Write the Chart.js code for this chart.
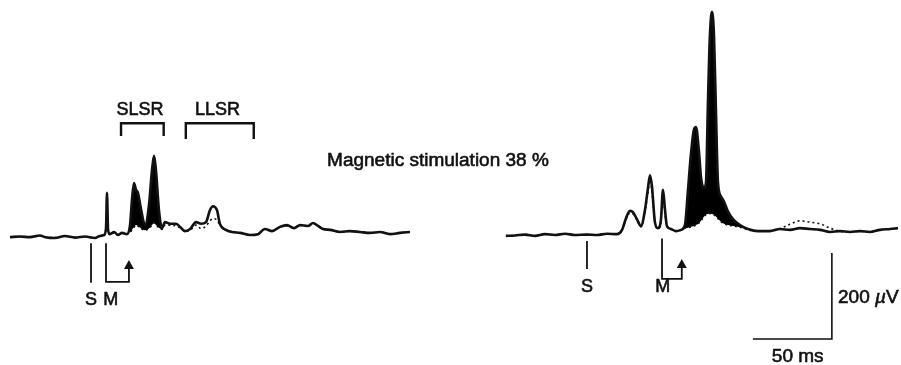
<!DOCTYPE html>
<html>
<head>
<meta charset="utf-8">
<script src="https://cdn.jsdelivr.net/npm/chart.js@4.4.1/dist/chart.umd.min.js"></script>
<style>
  html, body { margin: 0; padding: 0; background: #fff; }
  #wrap { width: 901px; height: 365px; position: relative; }
</style>
</head>
<body>
<div id="wrap"><canvas id="trace"></canvas></div>
<script>
// ========== DATA (ms from stimulus S, µV) ==========
// left record
const timeL = [-51.3, -44.9, -38.6, -32.3, -29, -22.8, -16.5, -10.1, -3.8, 2.5, 5.7, 8.2, 9.5, 10.1, 10.8, 12, 14.6, 17, 19.6, 22.8,
  24.7, 26, 27.2, 28.5, 29.7, 31.6, 34.2, 36.7, 38.6, 39.9, 41.1, 43, 44.9, 46.8, 50, 53.8, 56.3, 59.5, 62.7, 66.5,
  69.6, 72.8, 75.3, 77.2, 79.7, 81.6, 85.4, 89.2, 94.3, 100.6, 105.7, 110, 114.6, 119.6, 124, 128.5, 132.3, 137.3, 140.5, 143.7,
  146.8, 151.3, 157.6, 163.9, 170.3, 176.6, 182.9, 189.2, 195.6, 201.9];
const solidL = [2, 3.5, 2, 6, 2, 0, 4.7, 1, 3.5, 0, 4.7, 7, 23, 105, 19, 9, 14, 7, 12, 9,
  30, 92, 128, 112, 105, 68, 30, 77, 158, 191, 158, 65, 23, 37, 33, 33, 26, 16, 21, 37,
  33, 37, 65, 74, 65, 33, 19, 14, 12, 7, 9, 21, 16, 26, 30, 23, 30, 28, 35, 28,
  21, 19, 14, 16, 14, 12, 14, 9, 12, 14];
const dottedL = [2, 3, 2, 5, 2, 1, 4, 1, 3, 0, 4, 6, 15, 60, 12, 8, 12, 8, 11, 10,
  12, 20, 25, 30, 28, 22, 18, 22, 30, 35, 30, 24, 20, 30, 30, 28, 24, 16, 18, 30,
  22, 28, 40, 45, 42, 30, 18, 14, 12, 7, 9, 20, 16, 26, 28, 24, 30, 27, 33, 28,
  22, 19, 14, 16, 14, 12, 14, 9, 12, 14];

// right record
const timeR = [-51.3, -45.6, -39.2, -32.9, -26.6, -20.3, -13.9, -7.6, 0, 6.3, 12.7, 19, 22.2, 24.7, 27.2, 29.1, 31.6, 34.2, 36.7, 38.6,
  39.9, 41.1, 43, 44.9, 46.8, 48.1, 49.4, 50.6, 53.2, 56.3, 59.5, 62, 63.9, 65.8, 67.7, 69, 70.9, 72.2, 74.1, 75.3,
  76.6, 77.8, 79.1, 80.4, 81.6, 82.9, 84.8, 86.7, 89.2, 92.4, 96.8, 101.9, 108.2, 115.8, 122.2, 128.5, 134.8, 141.1, 147.5, 153.8,
  160.1, 166.5, 172.8, 179.1, 185.4, 191.8, 196.8];
const solidR = [5, 6, 8, 5, 9, 7, 10, 7, 8, 7, 10, 9, 19, 46, 63, 60, 44, 28, 65, 116,
  146, 121, 37, 23, 42, 112, 65, 28, 21, 16, 19, 30, 110, 195, 252, 258, 200, 140, 116, 128,
  320, 470, 526, 470, 300, 130, 97, 85, 62, 44, 30, 21, 16, 16, 21, 19, 23, 21, 19, 14,
  16, 14, 16, 14, 19, 21, 23];
const dottedR = [5, 6, 8, 5, 9, 7, 10, 7, 8, 7, 10, 9, 19, 44, 58, 56, 42, 26, 60, 105,
  135, 110, 35, 22, 38, 100, 55, 26, 20, 16, 18, 23, 24, 26, 28, 30, 35, 40, 50, 54,
  56, 57, 56, 54, 50, 45, 38, 33, 30, 28, 25, 19, 16, 17, 22, 32, 40, 37, 33, 23,
  16, 14, 16, 14, 19, 21, 23];

// shaded difference windows (ms)
const windowL = [24, 46];
const windowR = [62, 102];

// ========== HELPERS ==========
function toPoints(times, values) {
  return times.map((t, i) => ({ x: t, y: values[i] }));
}
function inWindow(times, values, win) {
  return toPoints(times, values).filter(p => p.x >= win[0] && p.x <= win[1]);
}

const lineBase = {
  borderColor: '#111',
  pointRadius: 0,
  cubicInterpolationMode: 'monotone',
  fill: false
};

// ========== ANNOTATIONS ==========
const annotations = {
  id: 'annotations',
  afterDraw(chart) {
    const { ctx, scales } = chart;
    const xL = v => scales.xL.getPixelForValue(v);
    const xR = v => scales.xR.getPixelForValue(v);
    const y = v => scales.y.getPixelForValue(v);

    ctx.save();
    ctx.strokeStyle = '#111';
    ctx.fillStyle = '#111';

    const path = (pts, w) => {
      ctx.lineWidth = w;
      ctx.beginPath();
      pts.forEach((p, i) => i ? ctx.lineTo(p[0], p[1]) : ctx.moveTo(p[0], p[1]));
      ctx.stroke();
    };
    const arrowHead = (x, tipY) => {
      ctx.beginPath();
      ctx.moveTo(x, tipY);
      ctx.lineTo(x - 5, tipY + 9);
      ctx.lineTo(x + 5, tipY + 9);
      ctx.closePath();
      ctx.fill();
    };
    // scanned-looking text: fill plus a thin stroke
    const text = (s, x, yy) => {
      ctx.lineWidth = 0.6;
      ctx.fillText(s, x, yy);
      ctx.strokeText(s, x, yy);
    };

    // brackets
    path([[xL(19), y(237)], [xL(19), y(267)], [xL(46), y(267)], [xL(46), y(237)]], 2.4);
    path([[xL(60), y(230)], [xL(60), y(267)], [xL(103), y(267)], [xL(103), y(230)]], 2.4);

    // stimulus markers, left
    path([[xL(0), y(-12)], [xL(0), y(-104)]], 1.8);
    path([[xL(9.5), y(-12)], [xL(9.5), y(-102)], [xL(24), y(-102)], [xL(24), y(-58)]], 1.8);
    arrowHead(xL(24), y(-51));

    // stimulus markers, right
    path([[xR(0), y(-7)], [xR(0), y(-72)]], 1.8);
    path([[xR(47.5), y(-1)], [xR(47.5), y(-95)], [xR(60), y(-95)], [xR(60), y(-56)]], 1.8);
    arrowHead(xR(60), y(-49));

    // scale bar 50 ms x 200 µV
    path([[xR(105), y(-235)], [xR(155), y(-235)], [xR(155), y(-35)]], 1.6);

    // texts
    ctx.font = '18px "Liberation Sans", Arial, sans-serif';
    ctx.textBaseline = 'alphabetic';
    ctx.textAlign = 'center';
    text('SLSR', xL(31), y(286));
    text('LLSR', xL(80), y(286));
    text('S', xL(0), y(-156));
    text('M', xL(12.5), y(-156));
    text('S', xR(0), y(-126));
    text('M', xR(48), y(-126));

    ctx.font = '19px "Liberation Sans", Arial, sans-serif';
    ctx.textAlign = 'left';
    text('Magnetic stimulation 38 %', xL(149.4), y(167));

    text('50 ms', xR(117), y(-288));

    let tx = xR(158.9);
    const ty = y(-152);
    text('200 ', tx, ty);
    tx += ctx.measureText('200 ').width;
    ctx.font = 'italic 19px "Liberation Sans", Arial, sans-serif';
    text('\u00b5', tx, ty);
    tx += ctx.measureText('\u00b5').width;
    ctx.font = '19px "Liberation Sans", Arial, sans-serif';
    text('V', tx, ty);

    ctx.restore();
  }
};

// ========== CHART ==========
new Chart(document.getElementById('trace'), {
  type: 'line',
  data: {
    datasets: [
      { ...lineBase, xAxisID: 'xL', data: toPoints(timeL, solidL), borderWidth: 2.6 },
      { ...lineBase, xAxisID: 'xR', data: toPoints(timeR, solidR), borderWidth: 2.6 },
      { ...lineBase, xAxisID: 'xL', data: toPoints(timeL, dottedL), borderWidth: 1.6, borderDash: [2, 3] },
      { ...lineBase, xAxisID: 'xR', data: toPoints(timeR, dottedR), borderWidth: 1.6, borderDash: [2, 3] },
      { ...lineBase, xAxisID: 'xL', data: inWindow(timeL, solidL, windowL), borderWidth: 0, fill: 5, backgroundColor: '#000' },
      { ...lineBase, xAxisID: 'xL', data: inWindow(timeL, dottedL, windowL), borderWidth: 0 },
      { ...lineBase, xAxisID: 'xR', data: inWindow(timeR, solidR, windowR), borderWidth: 0, fill: 7, backgroundColor: '#000' },
      { ...lineBase, xAxisID: 'xR', data: inWindow(timeR, dottedR, windowR), borderWidth: 0 }
    ]
  },
  options: {
    responsive: true,
    maintainAspectRatio: false,
    animation: false,
    events: [],
    layout: { padding: 0 },
    plugins: { legend: { display: false }, tooltip: { enabled: false } },
    scales: {
      xL: { type: 'linear', display: false, min: -57.6, max: 512.65 },
      xR: { type: 'linear', display: false, min: -371.5, max: 198.75 },
      y: { type: 'linear', display: false, min: -295.3, max: 553.5 }
    }
  },
  plugins: [annotations]
});
</script>
</body>
</html>
